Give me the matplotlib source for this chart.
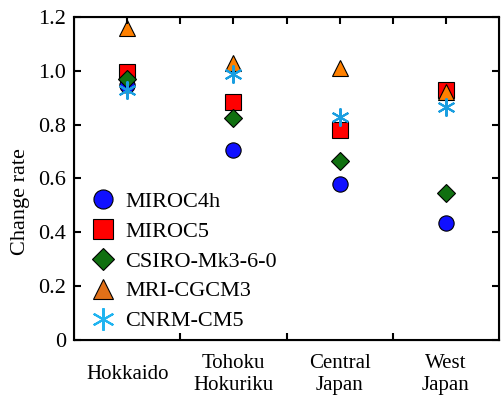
import numpy as np
import matplotlib
matplotlib.use('Agg')
from matplotlib import pyplot as plt

plt.rcParams['font.family'] = 'Liberation Serif'

regions = ['Hokkaido', 'Tohoku\nHokuriku', 'Central\nJapan', 'West\nJapan']
models = ['MIROC4h', 'MIROC5', 'CSIRO-Mk3-6-0', 'MRI-CGCM3', 'CNRM-CM5']
miroc4h = [0.947, 0.706, 0.580, 0.435]
miroc5 = [0.995, 0.885, 0.780, 0.930]
csiro = [0.970, 0.825, 0.665, 0.546]
mri = [1.160, 1.030, 1.010, 0.920]
cnrm = [0.930, 0.990, 0.830, 0.865]

series = [miroc4h, miroc5, csiro, mri, cnrm]
markers = ['o', 's', 'D', '^', (6, 2, 0)]
colors = ['#1010ff', '#ff0000', '#107010', '#ff8000', '#1a9ee0']
sizes = [11, 11, 9, 12, 13]

x = np.arange(len(regions)) + 0.5

fig = plt.figure(figsize=(5.01, 3.97), dpi=100)
ax = fig.add_axes([0.148, 0.1436, 0.848, 0.8136])

for vals, m, c, s, name in zip(series, markers, colors, sizes, models):
    if name == 'CNRM-CM5':
        ax.plot(x, vals, linestyle='none', marker=m, markersize=s,
                markeredgecolor=c, markeredgewidth=1.5, color=c, label=name)
    else:
        ax.plot(x, vals, linestyle='none', marker=m, markersize=s,
                markerfacecolor=c, markeredgecolor='black', markeredgewidth=0.8,
                label=name)

ax.set_xlim(0, 4)
ax.set_ylim(0, 1.2)
ax.set_yticks([0, 0.2, 0.4, 0.6, 0.8, 1.0, 1.2])
ax.set_yticklabels(['0', '0.2', '0.4', '0.6', '0.8', '1.0', '1.2'])
ax.set_xticks([1, 2, 3])
ax.set_xticklabels([])
ax.set_xticks(x, minor=True)
ax.set_xticklabels(regions, minor=True, linespacing=1.2, va='center')
ax.tick_params(axis='x', which='minor', length=0, pad=25, labelsize=15)
ax.tick_params(axis='both', which='major', direction='in', length=5, width=1.5,
               right=True, labelsize=16, pad=6)
for sp in ax.spines.values():
    sp.set_linewidth(1.5)

# top ticks at every half category
ax2 = ax.twiny()
ax2.set_xlim(0, 4)
ax2.set_xticks(np.arange(0.5, 4, 0.5))
ax2.set_xticklabels([])
ax2.tick_params(axis='x', direction='in', length=5, width=1.5)

ax.set_ylabel('Change rate', fontsize=16)
ax.yaxis.set_label_coords(-0.103, 0.43)

leg = ax.legend(loc='upper left', bbox_to_anchor=(0.0, 0.502), frameon=False,
                fontsize=16, handletextpad=0.3, labelspacing=0.42,
                borderaxespad=0.2, handlelength=1.4, markerscale=1.25)
for h in leg.legend_handles:
    if h.get_marker() == '^':
        h.set_markerfacecolor('#e07018')
    if isinstance(h.get_marker(), tuple):
        h.set_markeredgecolor('#20b4f0')

plt.savefig('out.png', dpi=100)
